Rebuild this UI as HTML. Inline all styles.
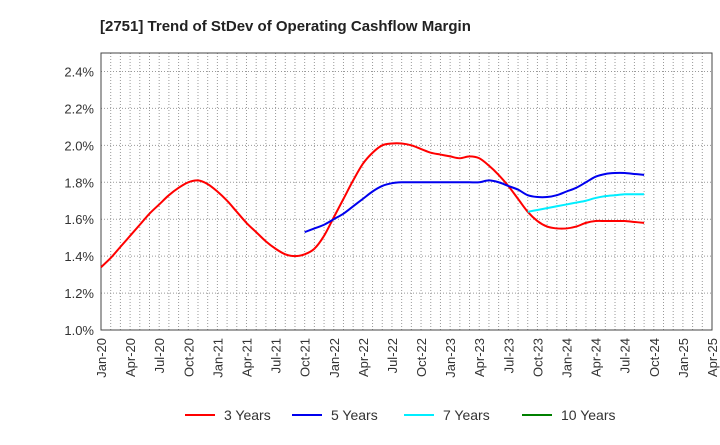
<!DOCTYPE html>
<html><head><meta charset="utf-8"><style>
body{margin:0;background:#fff;font-family:"Liberation Sans",sans-serif}
</style></head><body>
<svg id="chart" width="720" height="440" xmlns="http://www.w3.org/2000/svg" font-family="Liberation Sans, sans-serif">
<text x="100" y="31" font-size="15" font-weight="bold" fill="#222">[2751]  Trend of StDev of Operating Cashflow Margin</text>
<g id="grid"></g><g id="axes"></g><g id="series"></g><g id="legend"></g>
</svg>
<script>
const xLabels=["Jan-20","Apr-20","Jul-20","Oct-20","Jan-21","Apr-21","Jul-21","Oct-21","Jan-22","Apr-22","Jul-22","Oct-22","Jan-23","Apr-23","Jul-23","Oct-23","Jan-24","Apr-24","Jul-24","Oct-24","Jan-25","Apr-25"];
const yTicks=[1.0,1.2,1.4,1.6,1.8,2.0,2.2,2.4];
const s3Start=0;
const s3=[1.34,1.39,1.45,1.51,1.57,1.63,1.68,1.73,1.77,1.80,1.81,1.79,1.75,1.70,1.64,1.58,1.53,1.48,1.44,1.41,1.40,1.41,1.44,1.51,1.61,1.71,1.81,1.90,1.96,2.00,2.01,2.01,2.00,1.98,1.96,1.95,1.94,1.93,1.94,1.93,1.89,1.84,1.78,1.71,1.64,1.59,1.56,1.55,1.55,1.56,1.58,1.59,1.59,1.59,1.59,1.585,1.58];
const s5Start=21;
const s5=[1.53,1.55,1.57,1.60,1.63,1.67,1.71,1.75,1.78,1.795,1.80,1.80,1.80,1.80,1.80,1.80,1.80,1.80,1.80,1.81,1.80,1.78,1.76,1.73,1.72,1.72,1.73,1.75,1.77,1.80,1.83,1.845,1.85,1.85,1.845,1.84];
const s7Start=44;
const s7=[1.64,1.65,1.66,1.67,1.68,1.69,1.70,1.715,1.725,1.73,1.735,1.735,1.735];
const NS="http://www.w3.org/2000/svg";
const L=101,R=712,T=53,B=330,yMin=1.0,yMax=2.5,nMonths=63;
const X=m=>L+(R-L)*m/nMonths;
const Y=v=>B-(B-T)*(v-yMin)/(yMax-yMin);
function mk(tag,attrs,parent){const e=document.createElementNS(NS,tag);for(const k in attrs)e.setAttribute(k,attrs[k]);parent.appendChild(e);return e;}
const grid=document.getElementById('grid'),axes=document.getElementById('axes'),ser=document.getElementById('series'),leg=document.getElementById('legend');
for(let m=1;m<nMonths;m++){const l=mk('line',{x1:X(m),x2:X(m),y1:T,y2:B,stroke:'#999','stroke-dasharray':'1,2','stroke-width':1},grid);

}
yTicks.forEach(v=>{const l=mk('line',{x1:L,x2:R,y1:Y(v),y2:Y(v),stroke:'#999','stroke-dasharray':'1,2'},grid);


const t=mk('text',{x:L-7,y:Y(v)+5,'text-anchor':'end','font-size':13,fill:'#333'},axes);t.textContent=v.toFixed(1)+'%';

});
const fr=mk('rect',{x:L,y:T,width:R-L,height:B-T,fill:'none',stroke:'#444','stroke-width':1},axes);


xLabels.forEach((s,i)=>{const x=X(i*3);const t=mk('text',{transform:`translate(${x+5},${B+8}) rotate(-90)`,'text-anchor':'end','font-size':13,fill:'#333'},axes);t.textContent=s;

});
function path(vals,start){const p=vals.map((v,i)=>[X(start+i),Y(v)]);let d=`M${p[0][0]},${p[0][1]}`;
for(let i=0;i<p.length-1;i++){const p0=p[Math.max(0,i-1)],p1=p[i],p2=p[i+1],p3=p[Math.min(p.length-1,i+2)];
d+=` C${p1[0]+(p2[0]-p0[0])/6},${p1[1]+(p2[1]-p0[1])/6} ${p2[0]-(p3[0]-p1[0])/6},${p2[1]-(p3[1]-p1[1])/6} ${p2[0]},${p2[1]}`;}return d;}
[[s3,s3Start,'#ff0000','series-3-years'],[s5,s5Start,'#0000ee','series-5-years'],[s7,s7Start,'#00eeff','series-7-years']].forEach(([v,s,c,n])=>{
const e=mk('path',{d:path(v,s),fill:'none',stroke:c,'stroke-width':2},ser);

});
[['3 Years','#ff0000',185],['5 Years','#0000ee',292],['7 Years','#00eeff',404],['10 Years','#008000',522]].forEach(([n,c,x])=>{
const g=mk('g',{},leg);


mk('line',{x1:x,x2:x+30,y1:415,y2:415,stroke:c,'stroke-width':2},g);
const t=mk('text',{x:x+39,y:420,'font-size':14,fill:'#333'},g);t.textContent=n;});
</script>
</body></html>
